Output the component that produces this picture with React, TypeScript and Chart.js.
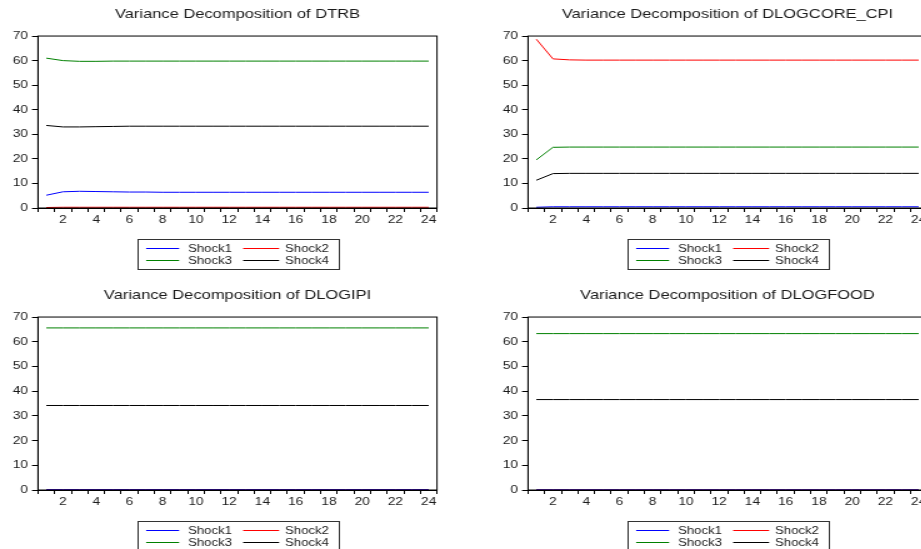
import React, { useEffect, useRef } from "react";
import { Chart, registerables } from "chart.js";

Chart.register(...registerables);

// ---------- data ----------
const periods = ["1", "2", "3", "4", "5", "6", "7", "8", "9", "10", "11", "12", "13", "14", "15", "16", "17", "18", "19", "20", "21", "22", "23", "24"];
const seriesNames = ["Shock1", "Shock2", "Shock3", "Shock4"];
const seriesColors = ["#0000ff", "#ff0000", "#008000", "#000000"];
const yMin = 0;
const yMax = 70;
const yStep = 10;

const dtrbShock1 = [5.2, 6.6, 6.8, 6.7, 6.6, 6.5, 6.5, 6.4, 6.4, 6.4, 6.4, 6.4, 6.4, 6.4, 6.4, 6.4, 6.4, 6.4, 6.4, 6.4, 6.4, 6.4, 6.4, 6.4];
const dtrbShock2 = [0.2, 0.3, 0.3, 0.3, 0.3, 0.3, 0.3, 0.3, 0.3, 0.3, 0.3, 0.3, 0.3, 0.3, 0.3, 0.3, 0.3, 0.3, 0.3, 0.3, 0.3, 0.3, 0.3, 0.3];
const dtrbShock3 = [61.0, 60.0, 59.7, 59.7, 59.8, 59.8, 59.8, 59.8, 59.8, 59.8, 59.8, 59.8, 59.8, 59.8, 59.8, 59.8, 59.8, 59.8, 59.8, 59.8, 59.8, 59.8, 59.8, 59.8];
const dtrbShock4 = [33.6, 33.0, 33.0, 33.1, 33.2, 33.3, 33.3, 33.3, 33.3, 33.3, 33.3, 33.3, 33.3, 33.3, 33.3, 33.3, 33.3, 33.3, 33.3, 33.3, 33.3, 33.3, 33.3, 33.3];

const coreShock1 = [0.3, 0.5, 0.5, 0.5, 0.5, 0.5, 0.5, 0.5, 0.5, 0.5, 0.5, 0.5, 0.5, 0.5, 0.5, 0.5, 0.5, 0.5, 0.5, 0.5, 0.5, 0.5, 0.5, 0.5];
const coreShock2 = [68.7, 60.7, 60.3, 60.2, 60.2, 60.2, 60.2, 60.2, 60.2, 60.2, 60.2, 60.2, 60.2, 60.2, 60.2, 60.2, 60.2, 60.2, 60.2, 60.2, 60.2, 60.2, 60.2, 60.2];
const coreShock3 = [19.6, 24.7, 24.8, 24.8, 24.8, 24.8, 24.8, 24.8, 24.8, 24.8, 24.8, 24.8, 24.8, 24.8, 24.8, 24.8, 24.8, 24.8, 24.8, 24.8, 24.8, 24.8, 24.8, 24.8];
const coreShock4 = [11.3, 14.0, 14.1, 14.1, 14.1, 14.1, 14.1, 14.1, 14.1, 14.1, 14.1, 14.1, 14.1, 14.1, 14.1, 14.1, 14.1, 14.1, 14.1, 14.1, 14.1, 14.1, 14.1, 14.1];

const ipiShock1 = [0.1, 0.1, 0.1, 0.1, 0.1, 0.1, 0.1, 0.1, 0.1, 0.1, 0.1, 0.1, 0.1, 0.1, 0.1, 0.1, 0.1, 0.1, 0.1, 0.1, 0.1, 0.1, 0.1, 0.1];
const ipiShock2 = [0.1, 0.1, 0.1, 0.1, 0.1, 0.1, 0.1, 0.1, 0.1, 0.1, 0.1, 0.1, 0.1, 0.1, 0.1, 0.1, 0.1, 0.1, 0.1, 0.1, 0.1, 0.1, 0.1, 0.1];
const ipiShock3 = [65.6, 65.6, 65.6, 65.6, 65.6, 65.6, 65.6, 65.6, 65.6, 65.6, 65.6, 65.6, 65.6, 65.6, 65.6, 65.6, 65.6, 65.6, 65.6, 65.6, 65.6, 65.6, 65.6, 65.6];
const ipiShock4 = [34.2, 34.2, 34.2, 34.2, 34.2, 34.2, 34.2, 34.2, 34.2, 34.2, 34.2, 34.2, 34.2, 34.2, 34.2, 34.2, 34.2, 34.2, 34.2, 34.2, 34.2, 34.2, 34.2, 34.2];

const foodShock1 = [0.05, 0.05, 0.05, 0.05, 0.05, 0.05, 0.05, 0.05, 0.05, 0.05, 0.05, 0.05, 0.05, 0.05, 0.05, 0.05, 0.05, 0.05, 0.05, 0.05, 0.05, 0.05, 0.05, 0.05];
const foodShock2 = [0.05, 0.05, 0.05, 0.05, 0.05, 0.05, 0.05, 0.05, 0.05, 0.05, 0.05, 0.05, 0.05, 0.05, 0.05, 0.05, 0.05, 0.05, 0.05, 0.05, 0.05, 0.05, 0.05, 0.05];
const foodShock3 = [63.3, 63.3, 63.3, 63.3, 63.3, 63.3, 63.3, 63.3, 63.3, 63.3, 63.3, 63.3, 63.3, 63.3, 63.3, 63.3, 63.3, 63.3, 63.3, 63.3, 63.3, 63.3, 63.3, 63.3];
const foodShock4 = [36.6, 36.6, 36.6, 36.6, 36.6, 36.6, 36.6, 36.6, 36.6, 36.6, 36.6, 36.6, 36.6, 36.6, 36.6, 36.6, 36.6, 36.6, 36.6, 36.6, 36.6, 36.6, 36.6, 36.6];

const panelTitles = [
  "Variance Decomposition of DTRB",
  "Variance Decomposition of DLOGCORE_CPI",
  "Variance Decomposition of DLOGIPI",
  "Variance Decomposition of DLOGFOOD",
];

// ---------- layout ----------
const SX = 1.25; // horizontal stretch of the rendering
const CANVAS_W = 392; // chart units (screen 490)
const PLOT_LEFT = 30.4; // chart units (screen 38)
const PLOT_RIGHT = 349.6; // chart units (screen 437)
const FONT = '"Liberation Sans", Arial, Helvetica, sans-serif';
const TEXT = "#1a1a1a";

const framePlugin = {
  id: "frame",
  afterDraw(chart: any) {
    const { ctx, chartArea: a } = chart;
    ctx.save();
    ctx.strokeStyle = "#000";
    ctx.lineWidth = 1;
    ctx.strokeRect(a.left, a.top, a.right - a.left, a.bottom - a.top);
    ctx.restore();
  },
};

const boxLegendPlugin = {
  id: "boxLegend",
  afterDraw(chart: any) {
    const { ctx, chartArea: a } = chart;
    const boxW = 161;
    const boxH = 30;
    const left = Math.round((a.left + a.right) / 2 - boxW / 2) + 0.5;
    const top = Math.round(a.bottom + 31) + 0.5;
    ctx.save();
    ctx.strokeStyle = "#333";
    ctx.lineWidth = 1;
    ctx.strokeRect(left, top, boxW, boxH);
    const lineStart = [6.4, 84];
    const lineEnd = [32.8, 112.8];
    const textX = [40, 117.6];
    const rowY = [9, 21];
    ctx.font = `10.5px ${FONT}`;
    ctx.textBaseline = "middle";
    ctx.textAlign = "left";
    chart.data.datasets.forEach((ds: any, i: number) => {
      const col = i % 2;
      const row = Math.floor(i / 2);
      const y = top + rowY[row];
      ctx.strokeStyle = ds.borderColor;
      ctx.lineWidth = 1;
      ctx.beginPath();
      ctx.moveTo(left + lineStart[col], y);
      ctx.lineTo(left + lineEnd[col], y);
      ctx.stroke();
      ctx.fillStyle = TEXT;
      ctx.fillText(ds.label, left + textX[col], y + 0.5);
    });
    ctx.restore();
  },
};

type PanelProps = {
  title: string;
  series: number[][];
  left: number;
  top: number;
  h: number;
  plotBottom: number;
};

function Panel({ title, series, left, top, h, plotBottom }: PanelProps) {
  const ref = useRef<HTMLCanvasElement | null>(null);
  useEffect(() => {
    if (!ref.current) return;
    const chart = new Chart(ref.current, {
      type: "line",
      data: {
        labels: periods,
        datasets: series.map((s, i) => ({
          label: seriesNames[i],
          data: s,
          borderColor: seriesColors[i],
          backgroundColor: seriesColors[i],
          borderWidth: 1,
          pointRadius: 0,
          tension: 0,
          fill: false,
        })),
      },
      options: {
        responsive: false,
        animation: false,
        devicePixelRatio: 1,
        layout: { padding: { left: 0, right: CANVAS_W - PLOT_RIGHT, top: 0, bottom: 0 } },
        plugins: {
          legend: { display: false },
          tooltip: { enabled: false },
          title: {
            display: true,
            fullSize: false,
            text: title,
            color: TEXT,
            font: { family: FONT, size: 13.2, weight: "normal" },
            padding: { top: 6.5, bottom: 13.7 },
          },
        },
        scales: {
          x: {
            type: "category",
            offset: true,
            grid: {
              offset: true,
              drawOnChartArea: false,
              drawTicks: true,
              tickLength: 4,
              color: "#000",
            },
            border: { display: true, color: "#000", width: 1 },
            ticks: {
              autoSkip: false,
              maxRotation: 0,
              minRotation: 0,
              padding: 1,
              color: TEXT,
              font: { family: FONT, size: 11 },
              callback: function (this: any, value: any) {
                const lab = this.getLabelForValue(value);
                return Number(lab) % 2 === 0 ? lab : "";
              },
            },
            afterFit: (scale: any) => {
              scale.height = h - plotBottom;
            },
          },
          y: {
            min: yMin,
            max: yMax,
            grid: {
              drawOnChartArea: false,
              drawTicks: true,
              tickLength: 4.8,
              color: "#000",
            },
            border: { display: true, color: "#000", width: 1 },
            ticks: {
              stepSize: yStep,
              padding: 3.2,
              color: TEXT,
              font: { family: FONT, size: 11 },
            },
            afterFit: (scale: any) => {
              scale.width = PLOT_LEFT;
            },
          },
        },
      },
      plugins: [framePlugin, boxLegendPlugin],
    } as any);
    return () => chart.destroy();
  }, [title, series, h, plotBottom]);
  return (
    <canvas
      ref={ref}
      width={CANVAS_W}
      height={h}
      style={{
        position: "absolute",
        left,
        top,
        width: `${CANVAS_W * SX}px`,
        height: `${h}px`,
      }}
    />
  );
}

const panels = [
  { title: panelTitles[0], series: [dtrbShock1, dtrbShock2, dtrbShock3, dtrbShock4], left: 0, top: 0, h: 281, plotBottom: 208 },
  { title: panelTitles[1], series: [coreShock1, coreShock2, coreShock3, coreShock4], left: 490, top: 0, h: 281, plotBottom: 208 },
  { title: panelTitles[2], series: [ipiShock1, ipiShock2, ipiShock3, ipiShock4], left: 0, top: 281, h: 268, plotBottom: 209 },
  { title: panelTitles[3], series: [foodShock1, foodShock2, foodShock3, foodShock4], left: 490, top: 281, h: 268, plotBottom: 209 },
];

export default function App() {
  return (
    <div
      style={{
        position: "fixed",
        left: 0,
        top: 0,
        width: 921,
        height: 549,
        overflow: "hidden",
        background: "#fff",
      }}
    >
      {panels.map((p) => (
        <Panel key={p.title} {...p} />
      ))}
    </div>
  );
}
